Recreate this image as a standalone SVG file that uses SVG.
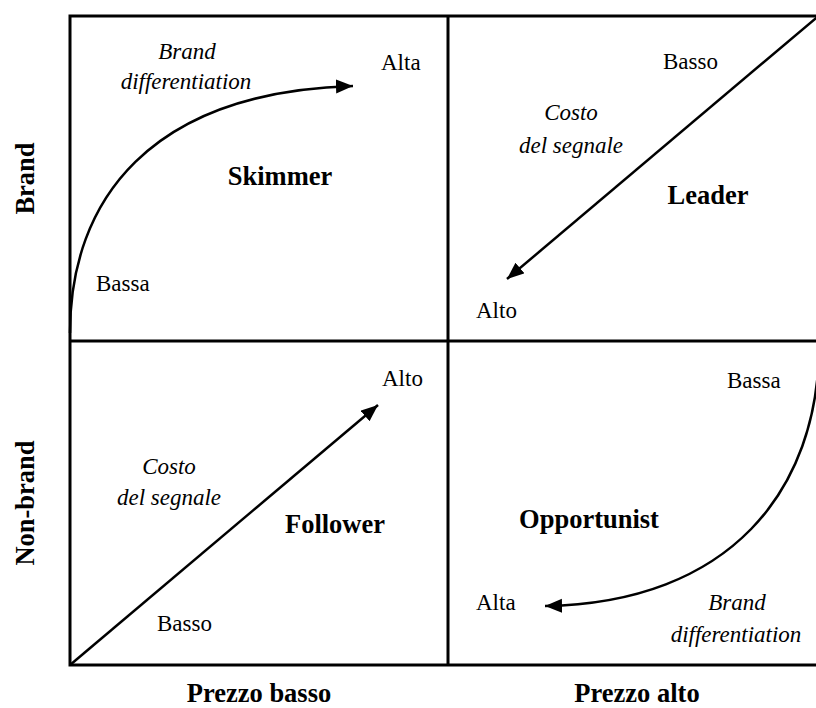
<svg xmlns="http://www.w3.org/2000/svg" width="816" height="708" viewBox="0 0 816 708">
<style>
text{font-family:"Liberation Serif","Times New Roman",serif;fill:#000}
.n{font-size:23px}
.i{font-size:23px;font-style:italic;text-anchor:middle}
.b{font-size:26.5px;font-weight:bold;text-anchor:middle}
.grid{fill:none;stroke:#000;stroke-width:3}
.arr{fill:none;stroke:#000;stroke-width:2.5}
</style>
<defs>
<marker id="ah" markerUnits="userSpaceOnUse" markerWidth="20" markerHeight="16" refX="17" refY="7" orient="auto">
<path d="M0,0 L17,7 L0,14 Z" fill="#000"/>
</marker>
</defs>
<rect width="816" height="708" fill="#fff"/>
<g id="grid">
<rect class="grid" x="70" y="16" width="756" height="649"/>
<line class="grid" x1="448" y1="16" x2="448" y2="665"/>
<line class="grid" x1="70" y1="341" x2="826" y2="341"/>
</g>
<g id="connectors">
<path class="arr" d="M70,333 C70,200 150,92 353,86" marker-end="url(#ah)"/>
<path class="arr" d="M822,13 L507,279" marker-end="url(#ah)"/>
<path class="arr" d="M70,665 L378,405" marker-end="url(#ah)"/>
<path class="arr" d="M819,345 C819,490 730,603 545,606" marker-end="url(#ah)"/>
</g>
<g id="skimmer">
<text class="i" x="187" y="59">Brand</text>
<text class="i" x="186" y="89">differentiation</text>
<text class="n" x="381" y="70">Alta</text>
<text class="b" x="280" y="185">Skimmer</text>
<text class="n" x="96" y="291">Bassa</text>
</g>
<g id="leader">
<text class="n" x="663" y="69">Basso</text>
<text class="i" x="571" y="120">Costo</text>
<text class="i" x="571" y="153">del segnale</text>
<text class="b" x="708" y="204">Leader</text>
<text class="n" x="476" y="318">Alto</text>
</g>
<g id="follower">
<text class="n" x="382" y="386">Alto</text>
<text class="i" x="169" y="474">Costo</text>
<text class="i" x="169" y="505">del segnale</text>
<text class="b" x="335" y="533">Follower</text>
<text class="n" x="157" y="631">Basso</text>
</g>
<g id="opportunist">
<text class="n" x="727" y="388">Bassa</text>
<text class="b" x="589" y="528">Opportunist</text>
<text class="n" x="476" y="610">Alta</text>
<text class="i" x="737" y="610">Brand</text>
<text class="i" x="736" y="642">differentiation</text>
</g>
<g id="axes">
<text class="b" x="259" y="702">Prezzo basso</text>
<text class="b" x="637" y="702">Prezzo alto</text>
<text class="b" transform="translate(34,178.5) rotate(-90)">Brand</text>
<text class="b" transform="translate(34,503) rotate(-90)">Non-brand</text>
</g>
</svg>
